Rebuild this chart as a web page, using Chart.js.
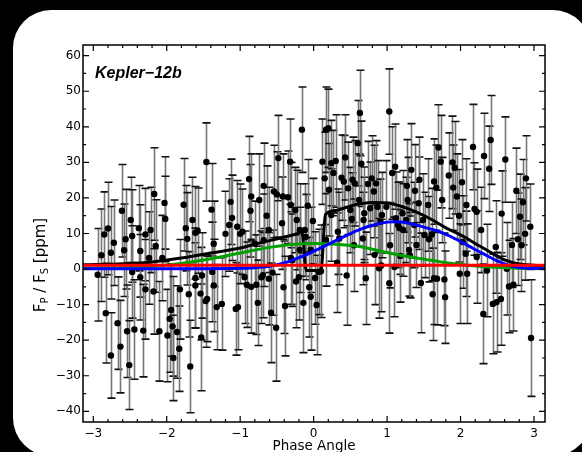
<!DOCTYPE html>
<html>
<head>
<meta charset="utf-8">
<script src="https://cdn.jsdelivr.net/npm/chart.js@4/dist/chart.umd.min.js"></script>
<style>
  html, body { margin: 0; padding: 0; background: #000; }
  body { width: 582px; height: 452px; position: relative; overflow: hidden; }
  .panel { position: absolute; left: 13px; top: 10px; width: 578px; height: 446px; border-radius: 38px; background: #fff; }
  #chart { position: absolute; left: 0; top: 0; }
</style>
</head>
<body>
<div class="panel"></div>
<canvas id="chart" width="582" height="452"></canvas>
<script>
// phase-folded measurements: phase, flux ratio (ppm), 1-sigma error
const phase = [
  -2.94, -2.89, -2.85, -2.83, -2.80, -2.76, -2.76, -2.72, -2.67, -2.63,
  -2.61, -2.58, -2.56, -2.54, -2.51, -2.49, -2.47, -2.47, -2.44, -2.38,
  -2.36, -2.36, -2.32, -2.29, -2.29, -2.24, -2.22, -2.18, -2.17, -2.15,
  -2.10, -2.06, -2.03, -2.02, -1.99, -1.96, -1.94, -1.92, -1.91, -1.86,
  -1.83, -1.82, -1.77, -1.74, -1.72, -1.70, -1.68, -1.65, -1.61, -1.61,
  -1.61, -1.58, -1.54, -1.53, -1.52, -1.47, -1.46, -1.45, -1.39, -1.38,
  -1.36, -1.36, -1.32, -1.25, -1.20, -1.15, -1.13, -1.11, -1.06, -1.04,
  -1.03, -1.00, -0.97, -0.94, -0.91, -0.88, -0.86, -0.85, -0.85, -0.80,
  -0.78, -0.76, -0.74, -0.71, -0.69, -0.68, -0.68, -0.64, -0.61, -0.61,
  -0.58, -0.56, -0.54, -0.51, -0.50, -0.48, -0.43, -0.42, -0.41, -0.39,
  -0.35, -0.32, -0.31, -0.31, -0.29, -0.25, -0.24, -0.23, -0.20, -0.19,
  -0.19, -0.16, -0.14, -0.12, -0.11, -0.08, -0.06, -0.04, -0.04, -0.01,
  0.02, 0.04, 0.07, 0.10, 0.12, 0.15, 0.17, 0.17, 0.20, 0.21,
  0.24, 0.24, 0.27, 0.30, 0.32, 0.33, 0.35, 0.38, 0.41, 0.43,
  0.45, 0.47, 0.50, 0.52, 0.53, 0.55, 0.56, 0.60, 0.62, 0.63,
  0.65, 0.67, 0.68, 0.69, 0.71, 0.74, 0.77, 0.79, 0.82, 0.83,
  0.85, 0.87, 0.89, 0.91, 0.92, 0.93, 0.99, 1.03, 1.03, 1.04,
  1.07, 1.10, 1.11, 1.12, 1.15, 1.17, 1.18, 1.21, 1.22, 1.26,
  1.27, 1.28, 1.30, 1.31, 1.33, 1.37, 1.38, 1.40, 1.43, 1.44,
  1.46, 1.49, 1.51, 1.56, 1.57, 1.61, 1.62, 1.64, 1.64, 1.67,
  1.68, 1.70, 1.73, 1.75, 1.78, 1.79, 1.84, 1.89, 1.90, 1.92,
  1.95, 1.98, 1.99, 2.02, 2.03, 2.07, 2.08, 2.09, 2.17, 2.19,
  2.22, 2.22, 2.28, 2.31, 2.32, 2.36, 2.39, 2.41, 2.44, 2.48,
  2.49, 2.55, 2.56, 2.61, 2.63, 2.66, 2.70, 2.72, 2.76, 2.78,
  2.81, 2.83, 2.85, 2.88, 2.89, 2.95, 2.96
];
const flux = [
  -1.6, 3.9, 9.7, -12.4, 11.4, 4.6, -24.3, 7.4, -15.2, -21.8,
  16.4, 5.3, 8.4, -17.5, -27.0, 13.8, 9.3, -0.8, -17.0, 11.5,
  5.1, -2.3, -17.3, 9.7, -5.7, 3.1, 11.0, -6.3, 21.1, 6.5,
  -17.5, 3.1, 18.6, 14.1, -18.7, -14.0, -11.5, -16.1, -25.0, -17.7,
  -22.4, -5.7, 18.1, 11.5, 8.5, -7.1, -27.4, 13.8, 10.2, -4.6,
  -2.5, 10.8, -6.9, -19.2, -1.8, -9.0, 30.1, -8.4, 16.7, -0.8,
  7.1, -4.6, -10.7, -9.8, 9.9, 12.4, 18.9, 14.4, -11.2, 11.9,
  -10.7, 9.9, 10.5, -2.3, -4.4, 25.3, 16.4, 20.4, -5.0, 7.1,
  -4.4, -9.5, 19.4, -2.3, -1.7, 23.4, 8.1, 15.0, 11.0, -2.7,
  -12.3, -1.0, 21.8, -16.5, 21.0, 31.2, 12.9, 20.4, -5.1, -10.4,
  20.2, 30.2, 3.1, 18.0, 2.5, 16.6, -3.5, 13.8, -2.3, 11.0,
  5.4, 39.2, -9.5, 11.0, 9.0, 17.8, -5.1, 5.4, -7.8, 13.5,
  -2.5, -10.1, -0.8, -0.6, 30.2, 25.5, 39.2, 8.2, 39.6, 22.3,
  29.8, 15.2, 27.0, 30.4, 1.8, 10.5, 8.6, 25.7, 24.6, 31.4,
  -1.8, 22.7, 16.6, 14.1, 25.1, 6.7, 24.1, 35.4, 19.4, 43.9,
  29.6, 8.6, 13.8, 15.7, -2.6, 23.9, 17.1, 25.5, 21.8, 4.0,
  24.1, 17.5, 0.2, 13.3, 1.0, 15.2, 17.5, 44.3, -4.0, 6.7,
  27.0, 0.6, 28.8, 14.3, 12.4, 11.5, 3.7, 15.7, 11.0, 13.8,
  23.4, 19.4, 5.4, 3.9, 27.9, 12.4, 22.0, 6.8, 18.5, 25.1,
  -3.9, 13.8, 9.6, 18.0, 8.4, 9.7, -7.1, 24.6, -2.6, 22.9,
  -2.7, 34.2, 30.2, 19.4, -2.9, -7.9, 26.3, 30.0, 22.9, 28.5,
  20.4, 15.0, -1.3, 24.4, 7.6, 4.3, 18.0, -1.3, 34.3, 16.9,
  16.1, 3.4, 11.0, -12.6, 31.8, -0.4, 28.2, 36.3, -9.8, 6.2,
  -9.3, -8.4, 15.6, 30.8, 0.1, -4.9, 6.8, -4.4, 22.0, 8.4,
  14.7, 6.7, 18.8, 9.9, 25.5, 11.9, -19.4
];
const fluxErr = [
  13, 13, 12, 14, 13, 13, 12, 12, 13, 13,
  13, 13, 14, 13, 12.5, 12, 13, 13, 14, 12,
  13, 12, 13, 13, 14, 13, 12, 12, 13, 13,
  14, 12, 13, 12, 13, 15, 13, 14, 12, 13,
  12, 14, 13, 12, 13, 12, 13, 12, 13, 12,
  14, 12, 13, 15, 12, 13, 11, 12, 13, 14,
  12, 13, 12, 13, 12, 13, 12, 12, 13, 13,
  12, 14, 12, 13, 12, 12, 13, 12, 13, 12,
  14, 12, 13, 13, 12, 12, 13, 14, 12, 13,
  14, 12, 13, 15, 12, 12, 13, 12, 13, 14,
  13, 12, 13, 12, 13, 12, 13, 14, 12, 13,
  12, 12, 14, 13, 12, 13, 14, 12, 15, 12,
  13, 14, 12, 13, 12, 13, 12, 13, 11, 13,
  12, 13, 12, 13, 14, 12, 13, 12, 13, 12,
  14, 13, 12, 13, 12, 13, 12, 12, 13, 12,
  12, 13, 12, 13, 13, 12, 13, 12, 13, 14,
  12, 13, 14, 12, 13, 12, 13, 12, 14, 12,
  13, 14, 12, 13, 12, 13, 13, 12, 13, 12,
  13, 12, 13, 12, 13, 12, 13, 12, 13, 12,
  14, 13, 12, 13, 12, 13, 13, 12, 13, 12,
  13, 12, 13, 12, 13, 13, 12, 13, 12, 13,
  12, 13, 14, 12, 13, 12, 13, 14, 12, 13,
  12, 13, 12, 14, 12, 13, 12, 12.5, 14, 13,
  14, 13, 12, 12, 13, 13, 12, 13, 12, 13,
  12, 13, 12, 13, 12, 12, 16.4
];

// model components, sampled along phase
const totalPhase = [-3.14, -2.6, -2.2, -1.8, -1.4, -1.0, -0.8, -0.6, -0.4, -0.25, -0.16, -0.10, 0.10, 0.16, 0.3, 0.45, 0.6, 0.8, 1.0, 1.2, 1.4, 1.6, 1.8, 2.0, 2.2, 2.4, 2.6, 2.8, 3.0, 3.15];
const totalFlux  = [1.2, 1.5, 2.0, 3.1, 4.5, 5.9, 7.0, 8.0, 9.0, 9.8, 10.4, -0.4, -0.4, 15.3, 16.5, 17.4, 18.2, 18.7, 18.6, 17.6, 16.0, 14.0, 11.6, 9.6, 7.2, 4.8, 2.6, 1.4, 1.1, 1.0];
const reflPhase = [-3.14, -1.5, -1.0, -0.8, -0.6, -0.4, -0.2, 0.0, 0.2, 0.4, 0.6, 0.8, 1.0, 1.1, 1.3, 1.5, 1.7, 1.9, 2.1, 2.3, 2.5, 2.7, 2.9, 3.15];
const reflFlux  = [0.1, 0.1, 0.2, 0.4, 0.8, 1.7, 3.2, 5.0, 7.0, 9.0, 10.9, 12.3, 13.2, 13.3, 12.9, 11.8, 10.6, 8.8, 6.6, 4.4, 2.3, 0.8, 0.25, 0.1];
const thermPhase = [-3.14, -2.6, -2.2, -1.8, -1.4, -1.0, -0.6, -0.3, 0.0, 0.3, 0.6, 0.9, 1.2, 1.5, 1.8, 2.1, 2.4, 2.7, 3.15];
const thermFlux  = [0.2, 0.4, 0.8, 1.6, 2.9, 4.5, 6.1, 6.9, 7.2, 7.0, 6.4, 5.1, 3.8, 2.8, 1.8, 1.1, 0.6, 0.3, 0.1];
const beamPhase = [-3.14, 0, 3.15];
const beamFlux  = [1.1, 1.1, 1.1];

const xTicks = [-3, -2, -1, 0, 1, 2, 3];
const yTicks = [-40, -30, -20, -10, 0, 10, 20, 30, 40, 50, 60];

const FONT = '"DejaVu Sans", Verdana, sans-serif';
const pairs = (xs, ys) => xs.map((x, i) => ({ x: x, y: ys[i] }));
const minus = v => String(v).replace('-', '\u2212');

// vertical error bars with caps, under the points
const errorBars = {
  id: 'errorBars',
  beforeDatasetsDraw(chart) {
    const { ctx, chartArea: a, scales: { x, y } } = chart;
    ctx.save();
    ctx.beginPath();
    ctx.rect(a.left, a.top, a.width, a.height);
    ctx.clip();
    ctx.lineWidth = 1.6;
    phase.forEach((p, i) => {
      const px = Math.round(x.getPixelForValue(p)) + 0.5;
      const top = y.getPixelForValue(flux[i] + fluxErr[i]);
      const bot = y.getPixelForValue(flux[i] - fluxErr[i]);
      ctx.strokeStyle = '#777';
      ctx.beginPath();
      ctx.moveTo(px, top);
      ctx.lineTo(px, bot);
      ctx.stroke();
      ctx.strokeStyle = '#111';
      ctx.beginPath();
      ctx.moveTo(px - 4, top); ctx.lineTo(px + 4, top);
      ctx.moveTo(px - 4, bot); ctx.lineTo(px + 4, bot);
      ctx.stroke();
    });
    ctx.restore();
  }
};

// box with inward ticks on all four sides, axis titles and the label
const frame = {
  id: 'frame',
  afterDraw(chart) {
    const { ctx, chartArea: a, scales: { x, y } } = chart;
    ctx.save();
    ctx.strokeStyle = '#000';
    ctx.lineWidth = 1.5;
    ctx.strokeRect(a.left, a.top, a.width, a.height);
    ctx.lineWidth = 1.2;
    ctx.beginPath();
    for (let v = -3; v <= 3.001; v += 0.2) {
      const px = x.getPixelForValue(v);
      const len = Math.abs(v - Math.round(v)) < 0.01 ? 6 : 3;
      ctx.moveTo(px, a.bottom); ctx.lineTo(px, a.bottom - len);
      ctx.moveTo(px, a.top); ctx.lineTo(px, a.top + len);
    }
    for (let v = -40; v <= 60; v += 5) {
      const py = y.getPixelForValue(v);
      const len = v % 10 === 0 ? 6 : 3;
      ctx.moveTo(a.left, py); ctx.lineTo(a.left + len, py);
      ctx.moveTo(a.right, py); ctx.lineTo(a.right - len, py);
    }
    ctx.stroke();

    ctx.fillStyle = '#000';
    ctx.font = 'italic bold 16px "Liberation Sans", Arial, sans-serif';
    ctx.textBaseline = 'alphabetic';
    ctx.textAlign = 'left';
    ctx.fillText('Kepler\u221212b', a.left + 12, a.top + 33);

    ctx.font = '13.5px ' + FONT;
    ctx.textAlign = 'center';
    ctx.textBaseline = 'top';
    ctx.fillText('Phase Angle', (a.left + a.right) / 2, 440);

    // rotated y title with subscripts
    const parts = [['F', 15, 0], ['P', 10, 3], [' / F', 15, 0], ['S', 10, 3], [' [ppm]', 15, 0]];
    let w = 0;
    parts.forEach(([t, s]) => { ctx.font = s + 'px ' + FONT; w += ctx.measureText(t).width; });
    ctx.translate(45, 265);
    ctx.rotate(-Math.PI / 2);
    ctx.textAlign = 'left';
    ctx.textBaseline = 'alphabetic';
    let cx = -w / 2;
    parts.forEach(([t, s, d]) => {
      ctx.font = s + 'px ' + FONT;
      ctx.fillText(t, cx, d);
      cx += ctx.measureText(t).width;
    });
    ctx.restore();
  }
};

const tickFont = { family: FONT, size: 12 };

new Chart(document.getElementById('chart'), {
  type: 'scatter',
  data: {
    datasets: [
      { type: 'line', data: pairs(beamPhase, beamFlux), borderColor: '#ff0000', borderWidth: 3, pointRadius: 0, order: 1 },
      { type: 'line', data: pairs(reflPhase, reflFlux), borderColor: '#0000ff', borderWidth: 3, pointRadius: 0, cubicInterpolationMode: 'monotone', order: 2 },
      { type: 'line', data: pairs(thermPhase, thermFlux), borderColor: '#00a000', borderWidth: 3, pointRadius: 0, cubicInterpolationMode: 'monotone', order: 3 },
      { type: 'line', data: pairs(totalPhase, totalFlux), borderColor: '#000000', borderWidth: 3, pointRadius: 0, cubicInterpolationMode: 'monotone', order: 4 },
      { data: pairs(phase, flux), pointRadius: 3.2, pointBackgroundColor: '#000', pointBorderWidth: 0, order: 10 }
    ]
  },
  options: {
    responsive: false,
    animation: false,
    devicePixelRatio: 1,
    layout: { padding: { top: 45, right: 37, left: 0, bottom: 0 } },
    plugins: { legend: { display: false }, tooltip: { enabled: false } },
    scales: {
      x: {
        type: 'linear', min: -3.14, max: 3.15,
        afterBuildTicks: s => { s.ticks = xTicks.map(v => ({ value: v })); },
        afterFit: s => { s.height = 30; },
        grid: { display: false, drawTicks: false },
        border: { display: false },
        ticks: { color: '#000', font: tickFont, padding: 5, maxRotation: 0, callback: v => minus(v) }
      },
      y: {
        type: 'linear', min: -43, max: 63,
        afterBuildTicks: s => { s.ticks = yTicks.map(v => ({ value: v })); },
        afterFit: s => { s.width = 83; },
        grid: { display: false, drawTicks: false },
        border: { display: false },
        ticks: { color: '#000', font: tickFont, padding: 2, callback: v => minus(v) }
      }
    }
  },
  plugins: [errorBars, frame]
});
</script>
</body>
</html>
